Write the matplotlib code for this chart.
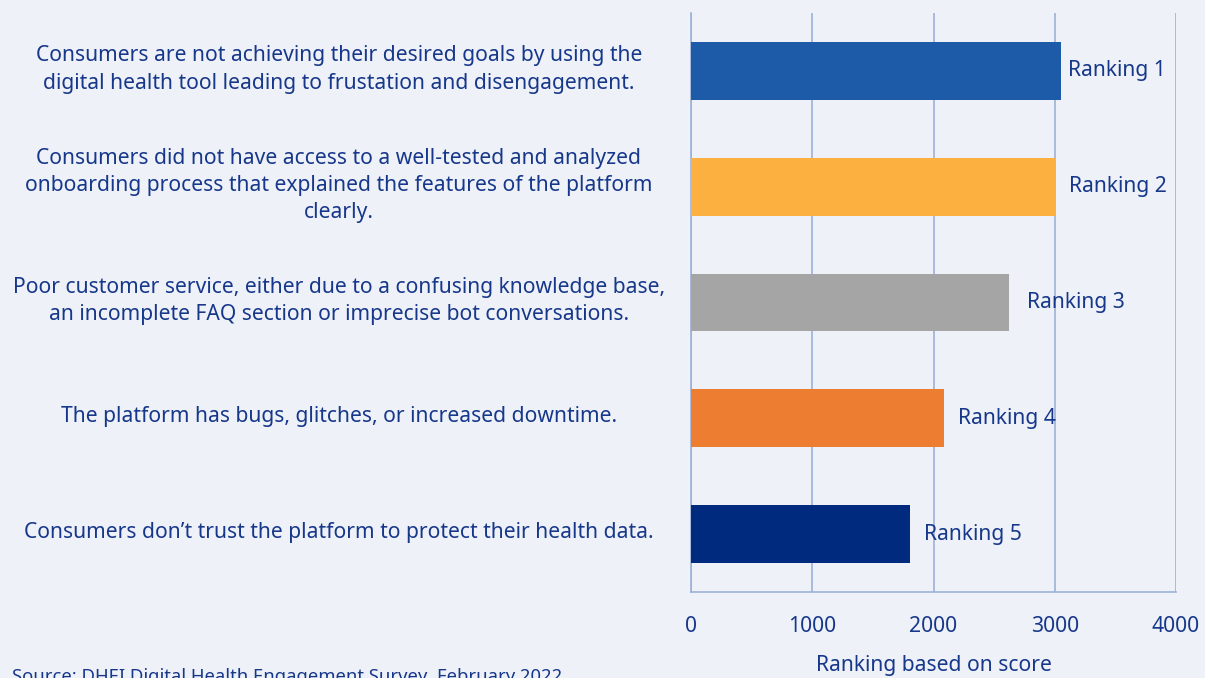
import matplotlib
matplotlib.use('Agg')
import matplotlib.pyplot as plt

plt.rcParams['font.family'] = ['Noto Sans', 'DejaVu Sans']

# data
reasons = [
    'Consumers are not achieving their desired goals by using the\n'
    'digital health tool leading to frustation and disengagement.',
    'Consumers did not have access to a well-tested and analyzed\n'
    'onboarding process that explained the features of the platform\n'
    'clearly.',
    'Poor customer service, either due to a confusing knowledge base,\n'
    'an incomplete FAQ section or imprecise bot conversations.',
    'The platform has bugs, glitches, or increased downtime.',
    'Consumers don\u2019t trust the platform to protect their health data.',
]
scores = [3050, 3000, 2620, 2090, 1805]
rank_labels = ['Ranking 1', 'Ranking 2', 'Ranking 3', 'Ranking 4', 'Ranking 5']
xticks = [0, 1000, 2000, 3000, 4000]

bar_colors = ['#1D5BA8', '#FBB040', '#A5A5A5', '#ED7D31', '#002A7D']
label_offsets = [5, 10, 13, 10, 10]   # points right of bar end
bg = '#EEF2F8'
txt = '#17378A'
grid = '#9DB0D6'
fs = 15.2

fig = plt.figure(figsize=(12.05, 6.78), dpi=100, facecolor=bg)
ax = fig.add_axes([691 / 1205, 1 - 592 / 678, 485 / 1205, 579 / 678])
ax.set_facecolor(bg)

y = range(len(scores))
ax.barh(y, scores, height=0.5, color=bar_colors, zorder=3)

for i, (s, lab) in enumerate(zip(scores, rank_labels)):
    ax.annotate(lab, (s, i), xytext=(label_offsets[i], 0), textcoords='offset points',
                va='center', ha='left', fontsize=fs, color=txt, zorder=4)

# category texts, centred in the left column
for i, r in enumerate(reasons):
    ax.annotate(r, xy=(339 / 1205, i), xycoords=('figure fraction', 'data'),
                xytext=(0, 1), textcoords='offset points',
                ha='center', va='center', multialignment='center',
                fontsize=fs, color=txt, linespacing=1.38, annotation_clip=False)

ax.set_xlim(0, 4000)
ax.set_ylim(len(scores) - 0.5, -0.5)
ax.set_xticks(xticks)
ax.set_xticklabels([str(t) for t in xticks])
ax.xaxis.grid(True, color=grid, linewidth=1.2, zorder=0)

ax.set_yticks([])
ax.tick_params(axis='x', length=0, pad=17.5, labelsize=fs, labelcolor=txt)

for side in ['top', 'right']:
    ax.spines[side].set_visible(False)
for side in ['left', 'bottom']:
    ax.spines[side].set_color(grid)
    ax.spines[side].set_linewidth(1.2)

ax.set_xlabel('Ranking based on score', fontsize=fs, color=txt, labelpad=13)

fig.text(12 / 1205, 1 - 668 / 678, 'Source: DHEI Digital Health Engagement Survey, February 2022',
         ha='left', va='top', fontsize=13.3, color=txt)

fig.savefig('out.png', dpi=100, facecolor=bg)
